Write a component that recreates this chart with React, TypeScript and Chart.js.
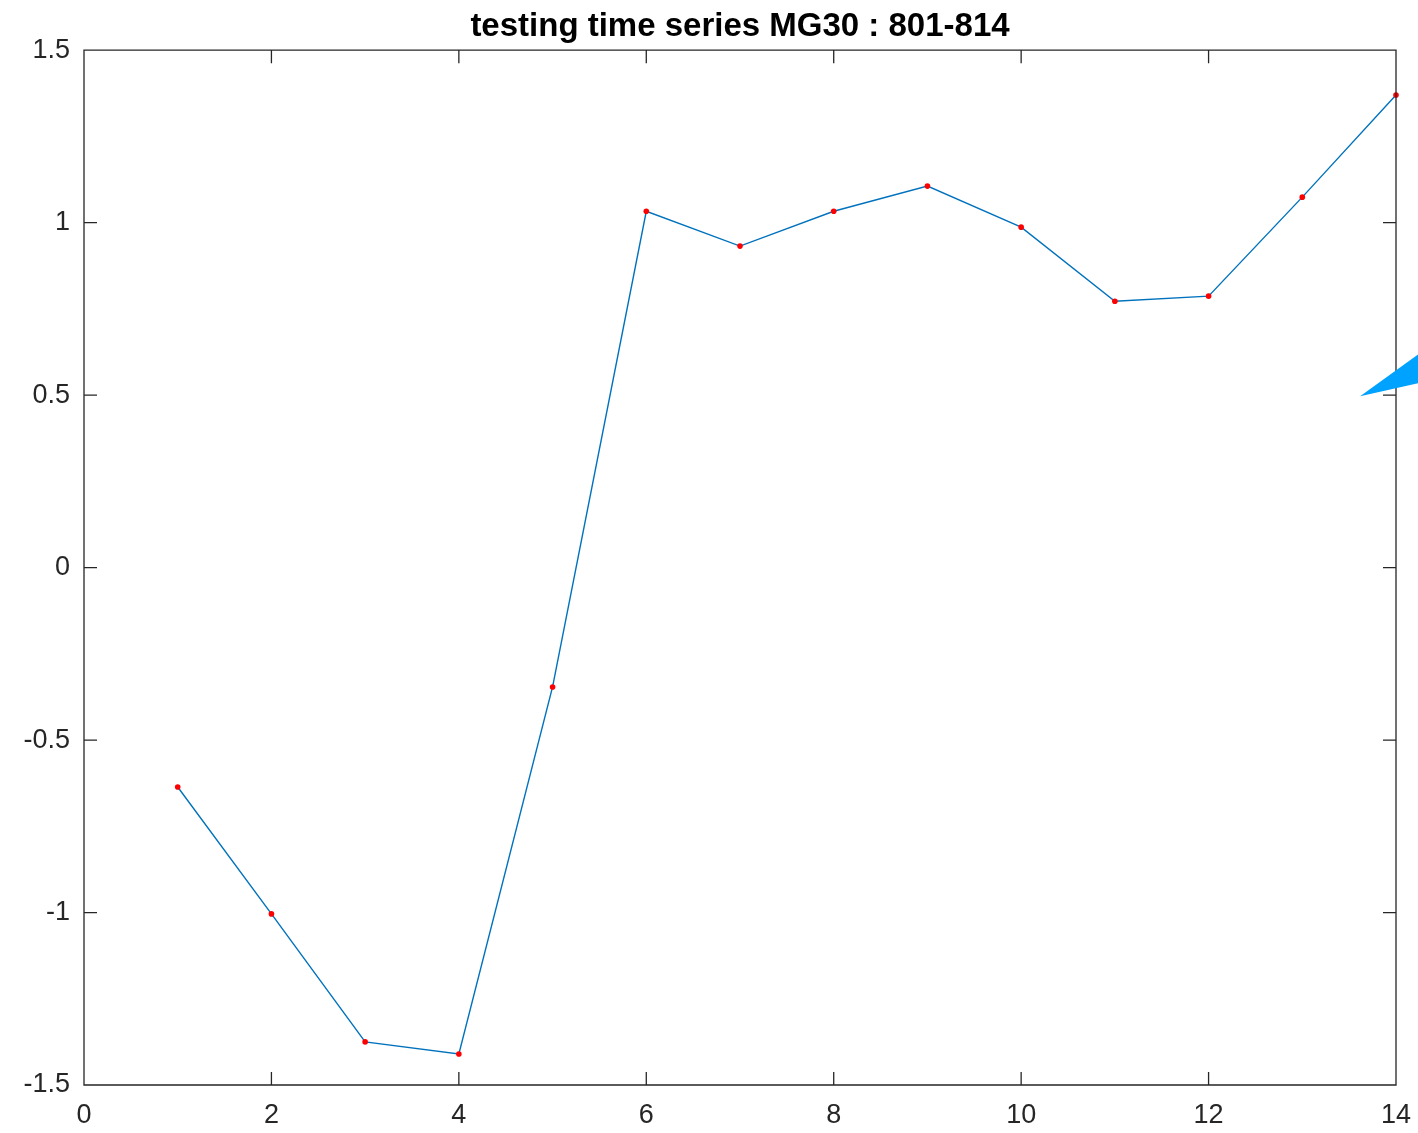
import React, { useEffect, useRef } from "react";
import { Chart, registerables } from "chart.js";

Chart.register(...registerables);

const titleText = "testing time series MG30 : 801-814";
const xValues = [1, 2, 3, 4, 5, 6, 7, 8, 9, 10, 11, 12, 13, 14];
const seriesValues = [-0.636, -1.004, -1.375, -1.41, -0.346, 1.033, 0.932, 1.033, 1.106, 0.987, 0.772, 0.787, 1.074, 1.37];
const xTickValues = [0, 2, 4, 6, 8, 10, 12, 14];
const yTickValues = [-1.5, -1, -0.5, 0, 0.5, 1, 1.5];
const xTickLabels = ["0", "2", "4", "6", "8", "10", "12", "14"];
const yTickLabels = ["-1.5", "-1", "-0.5", "0", "0.5", "1", "1.5"];
const wedgeX = [13.617, 14.24, 14.24];
const wedgeY = [0.497, 0.619, 0.535];

const AXIS_COLOR = "#262626";
const FONT = "'Liberation Sans', Arial, Helvetica, sans-serif";

const boxPlugin = {
  id: "matlabBox",
  afterDatasetsDraw(chart: any) {
    const { ctx, chartArea } = chart;
    const { left, right, top, bottom } = chartArea;
    const xs = chart.scales.x;
    const ys = chart.scales.y;
    const tl = 13;
    ctx.save();
    ctx.strokeStyle = AXIS_COLOR;
    ctx.lineWidth = 1.3;
    ctx.beginPath();
    ctx.rect(left, top, right - left, bottom - top);
    xTickValues.forEach((v) => {
      const px = xs.getPixelForValue(v);
      ctx.moveTo(px, bottom);
      ctx.lineTo(px, bottom - tl);
      ctx.moveTo(px, top);
      ctx.lineTo(px, top + tl);
    });
    yTickValues.forEach((v) => {
      const py = ys.getPixelForValue(v);
      ctx.moveTo(left, py);
      ctx.lineTo(left + tl, py);
      ctx.moveTo(right, py);
      ctx.lineTo(right - tl, py);
    });
    ctx.stroke();

    // wedge annotation
    ctx.fillStyle = "#00A2FF";
    ctx.beginPath();
    wedgeX.forEach((wx, i) => {
      const px = xs.getPixelForValue(wx);
      const py = ys.getPixelForValue(wedgeY[i]);
      if (i === 0) ctx.moveTo(px, py);
      else ctx.lineTo(px, py);
    });
    ctx.closePath();
    ctx.fill();
    ctx.restore();
  },
};

export default function App() {
  const canvasRef = useRef<HTMLCanvasElement | null>(null);

  useEffect(() => {
    document.body.style.margin = "0";
    const canvas = canvasRef.current;
    if (!canvas) return;
    const data = xValues.map((x, i) => ({ x, y: seriesValues[i] }));
    const chart = new Chart(canvas, {
      type: "line",
      data: {
        datasets: [
          {
            data,
            borderColor: "#0072BD",
            borderWidth: 1.4,
            pointRadius: 2.8,
            pointBackgroundColor: "#FF0000",
            pointBorderColor: "#FF0000",
            pointBorderWidth: 0,
            tension: 0,
            fill: false,
            clip: false as any,
          },
        ],
      },
      options: {
        animation: false,
        responsive: false,
        maintainAspectRatio: false,
        devicePixelRatio: 1,
        layout: { padding: { left: 0, right: 22, top: 0, bottom: 0 } },
        plugins: {
          legend: { display: false },
          tooltip: { enabled: false },
          title: {
            display: true,
            fullSize: false,
            text: titleText,
            color: "#000000",
            font: { family: FONT, size: 33, weight: "bold", lineHeight: 1.2 },
            padding: { top: 7, bottom: 3.6 },
          },
        },
        scales: {
          x: {
            type: "linear",
            min: 0,
            max: 14,
            afterBuildTicks: (scale: any) => {
              scale.ticks = xTickValues.map((v) => ({ value: v }));
            },
            afterFit: (scale: any) => {
              scale.height = 48;
              scale.paddingLeft = 0;
              scale.paddingRight = 0;
            },
            grid: { display: false, drawTicks: false },
            border: { display: false },
            ticks: {
              color: AXIS_COLOR,
              font: { family: FONT, size: 27 },
              padding: 14,
              maxRotation: 0,
              autoSkip: false,
              callback: (v: any) => {
                const i = xTickValues.indexOf(Number(v));
                return i >= 0 ? xTickLabels[i] : "";
              },
            },
          },
          y: {
            type: "linear",
            min: -1.5,
            max: 1.5,
            afterBuildTicks: (scale: any) => {
              scale.ticks = yTickValues.map((v) => ({ value: v }));
            },
            afterFit: (scale: any) => {
              scale.width = 84;
              scale.paddingTop = 0;
              scale.paddingBottom = 0;
            },
            grid: { display: false, drawTicks: false },
            border: { display: false },
            ticks: {
              color: AXIS_COLOR,
              font: { family: FONT, size: 27 },
              padding: 14,
              autoSkip: false,
              callback: (v: any) => {
                const i = yTickValues.indexOf(Number(v));
                return i >= 0 ? yTickLabels[i] : "";
              },
            },
          },
        },
      },
      plugins: [boxPlugin],
    });
    return () => chart.destroy();
  }, []);

  return (
    <div style={{ position: "fixed", left: 0, top: 0, width: 1418, height: 1133, background: "#ffffff" }}>
      <canvas ref={canvasRef} width={1418} height={1133} style={{ display: "block", width: 1418, height: 1133 }} />
    </div>
  );
}
